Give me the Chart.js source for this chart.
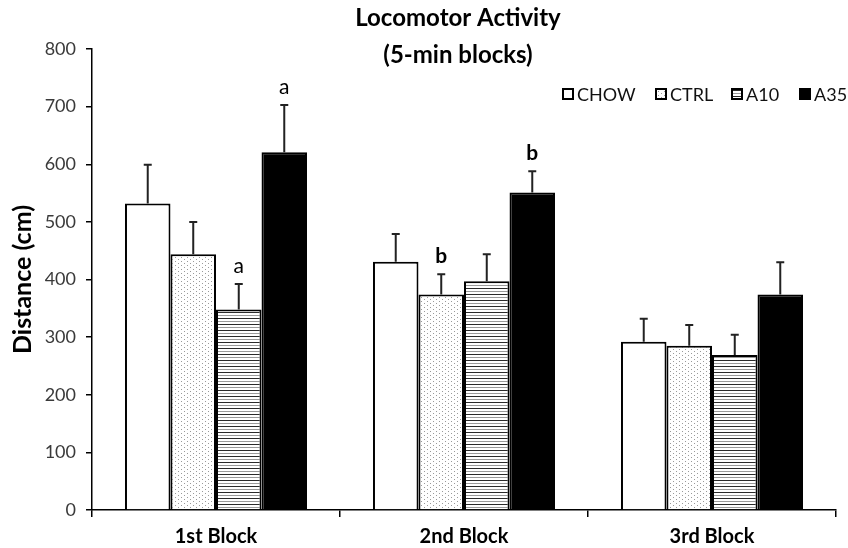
<!DOCTYPE html>
<html>
<head>
<meta charset="utf-8">
<script src="https://cdn.jsdelivr.net/npm/chart.js@4.4.1/dist/chart.umd.min.js"></script>
<style>
  html, body { margin: 0; padding: 0; background: #fff; }
  #wrap { width: 848px; height: 548px; }
</style>
</head>
<body>
<div id="wrap"><canvas id="c" width="848" height="548"></canvas></div>
<script>
// Locomotor activity, mean distance per 5-min block with SEM
const categories = ['1st Block', '2nd Block', '3rd Block'];
const groupNames = ['CHOW', 'CTRL', 'A10', 'A35'];

const chowMean = [532, 431, 292];
const chowSem  = [67, 48, 40];
const ctrlMean = [444, 374, 285];
const ctrlSem  = [56, 35, 36];
const a10Mean  = [348, 397, 269];
const a10Sem   = [44, 47, 35];
const a35Mean  = [621, 551, 374];
const a35Sem   = [82, 37, 56];

// significance letters above the error bars
const chowSig = ['', '', ''];
const ctrlSig = ['', 'b', ''];
const a10Sig  = ['a', '', ''];
const a35Sig  = ['a', 'b', ''];

const yTicks = [0, 100, 200, 300, 400, 500, 600, 700, 800];

const FONT = 'Lato, "Open Sans", "DejaVu Sans", sans-serif';

// fill patterns
function makePattern(w, h, paint) {
  const c = document.createElement('canvas');
  c.width = w; c.height = h;
  const g = c.getContext('2d');
  g.fillStyle = '#fff';
  g.fillRect(0, 0, w, h);
  paint(g);
  return g.createPattern(c, 'repeat');
}
const ctx = document.getElementById('c').getContext('2d');
const dotted = makePattern(6, 4, g => {
  g.fillStyle = '#9a9a9a';
  g.fillRect(1, 1, 1, 1);
  g.fillRect(4, 3, 1, 1);
});
const striped = makePattern(1, 6, g => {
  g.fillStyle = '#2a2a2a';
  g.fillRect(0, 0, 1, 1);
  g.fillStyle = '#9a9a9a';
  g.fillRect(0, 3, 1, 1);
});

const fills = ['#ffffff', dotted, striped, '#000000'];
const means = [chowMean, ctrlMean, a10Mean, a35Mean];
const sems = [chowSem, ctrlSem, a10Sem, a35Sem];
const sigs = [chowSig, ctrlSig, a10Sig, a35Sig];

const datasets = groupNames.map((name, i) => ({
  label: name,
  data: means[i],
  sem: sems[i],
  sig: sigs[i],
  backgroundColor: fills[i],
  borderColor: '#000',
  borderWidth: 2,
  borderSkipped: 'bottom',
  categoryPercentage: 0.734,
  barPercentage: 1.0
}));

// error bars, letters, title and legend
const decorations = {
  id: 'decorations',
  afterDatasetsDraw(chart) {
    const c = chart.ctx;
    const y = chart.scales.y;
    chart.data.datasets.forEach((ds, i) => {
      const meta = chart.getDatasetMeta(i);
      meta.data.forEach((bar, j) => {
        const top = y.getPixelForValue(ds.data[j]);
        const capY = y.getPixelForValue(ds.data[j] + ds.sem[j]);
        c.save();
        c.strokeStyle = '#222';
        c.lineWidth = 2;
        c.beginPath();
        c.moveTo(bar.x, top);
        c.lineTo(bar.x, capY);
        c.moveTo(bar.x - 4, capY);
        c.lineTo(bar.x + 4, capY);
        c.stroke();
        const letter = ds.sig[j];
        if (letter) {
          c.fillStyle = '#000';
          c.font = (letter === 'b' ? 'bold ' : '') + '21px ' + FONT;
          c.textAlign = 'center';
          c.textBaseline = 'middle';
          c.fillText(letter, bar.x, capY - 18);
        }
        c.restore();
      });
    });
  },
  afterDraw(chart) {
    const c = chart.ctx;
    c.save();
    // title
    c.fillStyle = '#000';
    c.font = 'bold 24px ' + FONT;
    c.textAlign = 'center';
    c.textBaseline = 'middle';
    c.fillText('Locomotor Activity', 458, 18);
    c.fillText('(5-min blocks)', 458, 55);
    // legend
    const itemX = [562, 655, 731, 799];
    const ly = 94;
    c.font = '18px ' + FONT;
    c.textAlign = 'left';
    chart.data.datasets.forEach((ds, i) => {
      const x = itemX[i];
      c.fillStyle = ds.backgroundColor;
      c.fillRect(x, ly - 6, 12, 12);
      c.strokeStyle = '#000';
      c.lineWidth = 2;
      c.strokeRect(x + 1, ly - 5, 10, 10);
      c.fillStyle = '#111';
      c.fillText(ds.label, x + 15, ly + 1);
    });
    c.restore();
  }
};

new Chart(ctx, {
  type: 'bar',
  data: { labels: categories, datasets },
  options: {
    responsive: false,
    animation: false,
    devicePixelRatio: 1,
    layout: { padding: { top: 49, right: 12, left: 0, bottom: 0 } },
    plugins: {
      legend: { display: false },
      title: { display: false },
      tooltip: { enabled: false }
    },
    scales: {
      x: {
        afterFit(s) { s.height = 38; },
        grid: {
          offset: true,
          drawOnChartArea: false,
          drawTicks: true,
          tickLength: 7,
          color: '#000',
          lineWidth: 1.5
        },
        border: { color: '#000', width: 1.5 },
        ticks: {
          color: '#000',
          padding: 8,
          font: { family: FONT, size: 20, weight: 'bold' }
        }
      },
      y: {
        min: 0,
        max: 800,
        afterFit(s) { s.width = 92; },
        afterBuildTicks(s) { s.ticks = yTicks.map(v => ({ value: v })); },
        grid: {
          drawOnChartArea: false,
          drawTicks: true,
          tickLength: 6,
          color: '#000',
          lineWidth: 1.5
        },
        border: { color: '#000', width: 1.5 },
        ticks: {
          color: '#3a3a3a',
          padding: 10,
          font: { family: FONT, size: 18 }
        },
        title: {
          display: true,
          text: 'Distance (cm)',
          color: '#000',
          padding: { top: 8, bottom: 0 },
          font: { family: FONT, size: 25, weight: 'bold' }
        }
      }
    }
  },
  plugins: [decorations]
});
</script>
</body>
</html>
